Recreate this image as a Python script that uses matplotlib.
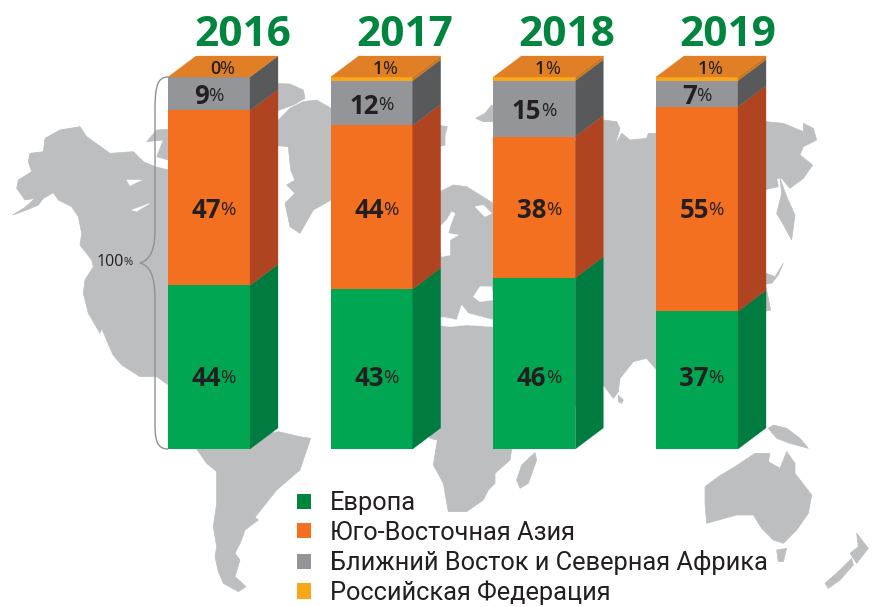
import matplotlib
matplotlib.use("Agg")
import matplotlib.pyplot as plt
from matplotlib.patches import Patch, Polygon, PathPatch
from matplotlib.path import Path
import numpy as np

years = ["2016", "2017", "2018", "2019"]
series_names = ["Европа", "Юго-Восточная Азия",
                "Ближний Восток и Северная Африка", "Российская Федерация"]
europe = [44, 43, 46, 37]
se_asia = [47, 44, 38, 55]
mideast = [9, 12, 15, 7]
russia = [0, 1, 1, 1]

front_colors = ["#00a651", "#f37021", "#939598", "#faa61a"]
side_colors = ["#007c41", "#b04420", "#58595b", "#c9761f"]
legend_colors = ["#00853f", "#f37021", "#939598", "#faa61a"]
top_color = "#e07f26"
ink = "#231f20"
land = "#bcbec0"

W, H = 884, 607
PX_X = 162.67   # pixels per bar step
PX_Y = 3.72     # pixels per percent
X0, Y0 = 209, 449


def z(x0, y0, pts):
    return [(x0 + a / 3, y0 + b / 3) for a, b in pts]


# background map, outlines only, pixel coordinates
north_america = z(0, 120, [(38, 285), (80, 270), (115, 255), (130, 235), (160, 218), (175, 240),
                           (215, 260), (235, 290), (245, 340), (240, 375), (275, 420), (280, 440),
                           (255, 480), (250, 520), (265, 580), (300, 640), (335, 700), (365, 735),
                           (420, 770), (470, 770), (505, 795), (620, 800), (620, 650), (505, 650),
                           (450, 660), (432, 700), (445, 735), (505, 725), (700, 600), (800, 100),
                           (800, 0), (505, 0), (505, 150), (465, 140), (430, 125), (400, 95),
                           (330, 100), (260, 50), (240, 20), (180, 30), (135, 55), (130, 95),
                           (90, 100), (85, 125), (95, 155), (55, 180), (50, 205), (75, 240),
                           (105, 235), (75, 262)])
arctic = z(0, 120, [(440, 65), (470, 30), (505, 28), (505, 120), (470, 110), (490, 60)])
ellesmere = z(270, 70, [(0, 40), (60, 42), (100, 60), (105, 85), (70, 105), (0, 130)])
greenland = z(270, 70, [(0, 160), (25, 150), (60, 115), (100, 95), (140, 90), (183, 115), (230, 150),
                        (230, 380), (183, 390), (130, 420), (90, 490), (60, 470), (45, 400),
                        (75, 370), (50, 345), (75, 330), (62, 300), (55, 230), (0, 225)])
south_america = (z(160, 440, [(105, 20), (140, 70), (170, 95), (170, 190), (160, 260), (170, 320),
                              (165, 350), (175, 395), (190, 430), (235, 455), (258, 440), (225, 410),
                              (240, 360), (225, 340), (245, 300), (255, 270), (295, 240), (285, 232),
                              (350, 150), (420, 90)])
                 + z(270, 70, [(110, 1140), (122, 1105), (90, 1100), (25, 1085), (-50, 1100)]))
iceland = z(430, 70, [(20, 165), (52, 170), (45, 195), (45, 225), (20, 232)])
svalbard = z(430, 70, [(137, 145), (165, 130), (185, 105), (220, 155), (160, 155)])
eurasia_africa = (z(430, 70, [(30, 365), (70, 345), (110, 350), (150, 375), (190, 400)])
                  + z(590, 70, [(40, 150), (80, 155), (90, 175), (75, 225), (95, 190), (120, 210),
                                (170, 205), (175, 190), (200, 190)])
                  + z(640, 100, [(378, 65), (430, 70), (490, 95), (490, 70), (520, 85), (530, 120),
                                 (490, 140), (480, 165), (518, 195), (490, 235), (450, 265),
                                 (425, 235), (410, 235), (415, 260), (370, 270), (370, 560),
                                 (378, 560), (392, 630), (370, 635)])
                  + z(590, 70, [(200, 900), (170, 865), (130, 875), (90, 925), (85, 965), (70, 985),
                                (40, 945), (-30, 1000)])
                  + z(400, 440, [(335, 28), (330, 60), (285, 100), (285, 130), (265, 150), (250, 180),
                                 (200, 215), (145, 215), (130, 130), (100, 75), (112, 0)])
                  + z(430, 70, [(0, 1105), (-30, 1000), (-30, 365)]))
kamchatka = z(640, 100, [(420, 235), (440, 290), (465, 345), (455, 420), (425, 365), (410, 340), (425, 280)])
japan = z(640, 100, [(378, 520), (405, 530), (430, 490), (415, 525), (395, 550), (378, 552)])
sri_lanka = z(590, 70, [(85, 975), (100, 990), (95, 1000), (85, 995)])
madagascar = z(400, 440, [(405, 38), (410, 60), (385, 130), (360, 145), (350, 120), (365, 75)])
new_guinea = z(640, 100, [(385, 985), (400, 975), (440, 985), (480, 1015), (505, 1045), (450, 1030), (410, 1015)])
australia = z(640, 100, [(195, 1160), (235, 1130), (285, 1100), (345, 1060), (390, 1060), (385, 1085),
                         (420, 1105), (440, 1055), (465, 1090), (465, 1120), (515, 1185), (505, 1240),
                         (470, 1290), (430, 1330), (400, 1320), (365, 1285), (340, 1245), (290, 1245),
                         (200, 1270), (195, 1210)])
tasmania = z(640, 100, [(410, 1350), (440, 1345), (430, 1385), (415, 1385)])
nz_north = z(640, 100, [(650, 1300), (685, 1345), (650, 1390), (630, 1360), (655, 1340)])
nz_south = z(640, 100, [(635, 1375), (600, 1410), (555, 1450), (565, 1465), (600, 1440), (640, 1395)])
land_shapes = [north_america, arctic, ellesmere, greenland, south_america, iceland, svalbard,
               eurasia_africa, kamchatka, japan, sri_lanka, madagascar, new_guinea, australia,
               tasmania, nz_north, nz_south]

baltic = z(430, 70, [(65, 425), (75, 430), (60, 470), (55, 490), (85, 495), (60, 510), (60, 555),
                     (35, 560), (20, 480), (50, 450)])
black_sea = z(430, 70, [(130, 680), (150, 650), (185, 650), (190, 690), (150, 695)])
mediterranean = z(430, 70, [(20, 740), (60, 745), (80, 750), (95, 705), (115, 730), (190, 750),
                            (190, 770), (110, 765), (60, 770), (20, 765)])
white_sea = z(430, 70, [(135, 410), (160, 405), (185, 430), (165, 440), (150, 425)])
bear_lake = z(0, 120, [(380, 180), (425, 180), (390, 197)])
slave_lake = z(0, 120, [(395, 270), (450, 250), (410, 274)])
california = z(0, 120, [(305, 630), (337, 705), (300, 645)])
water_shapes = [baltic, black_sea, mediterranean, white_sea, bear_lake, slave_lake, california]

fig = plt.figure(figsize=(W / 100, H / 100), dpi=100, facecolor="white")

bg = fig.add_axes([0, 0, 1, 1], zorder=0)
bg.set_xlim(0, W)
bg.set_ylim(H, 0)
bg.axis("off")
for shape in land_shapes:
    bg.add_patch(Polygon(shape, closed=True, fc=land, ec=land, lw=0.5))
for shape in water_shapes:
    bg.add_patch(Polygon(shape, closed=True, fc="white", ec="white", lw=0.3))

ax = fig.add_axes([0, 0, 1, 1], zorder=1)
ax.patch.set_alpha(0)
ax.set_xlim(-X0 / PX_X, (W - X0) / PX_X)
ax.set_ylim((Y0 - H) / PX_Y, Y0 / PX_Y)
ax.axis("off")

x = np.arange(len(years))
bar_w = 82 / PX_X
dx = 28 / PX_X
dy = 21 / PX_Y

bottom = np.zeros(len(years))
for vals, fc, sc in zip([europe, se_asia, mideast, russia], front_colors, side_colors):
    vals = np.array(vals, dtype=float)
    ax.bar(x, vals, bar_w, bottom=bottom, color=fc, linewidth=0, zorder=3)
    for xi, b, v in zip(x, bottom, vals):
        if v == 0:
            continue
        r = xi + bar_w / 2
        ax.add_patch(Polygon([(r, b), (r + dx, b + dy), (r + dx, b + v + dy), (r, b + v)],
                             closed=True, fc=sc, ec=sc, lw=0.2, zorder=3))
    bottom += vals

# top face of each block
for xi, t in zip(x, bottom):
    l, r = xi - bar_w / 2, xi + bar_w / 2
    ax.add_patch(Polygon([(l, t), (r, t), (r + dx, t + dy), (l + dx, t + dy)],
                         closed=True, fc=top_color, ec=top_color, lw=0.2, zorder=3))


def pct_label(xi, y, val, split, size, psize, weight="bold"):
    sx = xi - bar_w / 2 + split / PX_X
    ax.text(sx, y, str(val), ha="right", va="center_baseline", fontsize=size, fontweight=weight,
            family="Open Sans", color=ink, zorder=5)
    ax.text(sx - 0.5 / PX_X, y, "%", ha="left", va="center_baseline", fontsize=psize,
            family="Open Sans", color=ink, zorder=5)


green_y = (Y0 - 376) / PX_Y
orange_y = (Y0 - 208) / PX_Y
top_y = (Y0 - 67) / PX_Y
for i, xi in enumerate(x):
    ax.text(xi + 34 / PX_X - i * 1 / PX_X, (Y0 - 35) / PX_Y, years[i], ha="center", va="center",
            fontsize=30.5, fontweight="bold", family="Open Sans", color="#00853f", zorder=5)
    pct_label(xi, green_y, europe[i], 53, 18.5, 13.5)
    pct_label(xi, orange_y, se_asia[i], 53, 18.5, 13.5)
    gray_mid = europe[i] + se_asia[i] + mideast[i] / 2
    split = 48 if mideast[i] >= 10 else 41
    pct_label(xi, gray_mid, mideast[i], split, 18.5, 13.5)
    pct_label(xi, top_y, russia[i], 52, 13, 13, weight="semibold")

# brace on the first bar
brace = Path([(168, 77), (158, 77), (155, 85), (155, 110), (155, 230), (155, 250), (150, 260), (140, 263),
              (150, 266), (155, 275), (155, 300), (155, 425), (155, 442), (158, 449), (168, 449)],
             [Path.MOVETO, Path.CURVE4, Path.CURVE4, Path.CURVE4, Path.LINETO, Path.CURVE4, Path.CURVE4,
              Path.CURVE4, Path.CURVE4, Path.CURVE4, Path.CURVE4, Path.LINETO, Path.CURVE4, Path.CURVE4,
              Path.CURVE4])
bg.add_patch(PathPatch(brace, fc="none", ec="#8f9194", lw=1.0, zorder=4))
bg.text(124, 262, "100", ha="right", va="center", fontsize=11.5, family="Open Sans", color=ink, zorder=5)
bg.text(124, 262.5, "%", ha="left", va="center", fontsize=8, family="Open Sans", color=ink, zorder=5)

handles = [Patch(fc=c, ec="none") for c in legend_colors]
fig.legend(handles, series_names, loc="lower left", bbox_to_anchor=(297 / W, 2 / H), bbox_transform=fig.transFigure,
           frameon=False, prop={"family": "Roboto", "size": 18.3}, labelcolor=ink, handlelength=0.55,
           handleheight=0.55, handletextpad=0.75, labelspacing=0.21, borderpad=0, borderaxespad=0)

fig.savefig("out.png", dpi=100)
